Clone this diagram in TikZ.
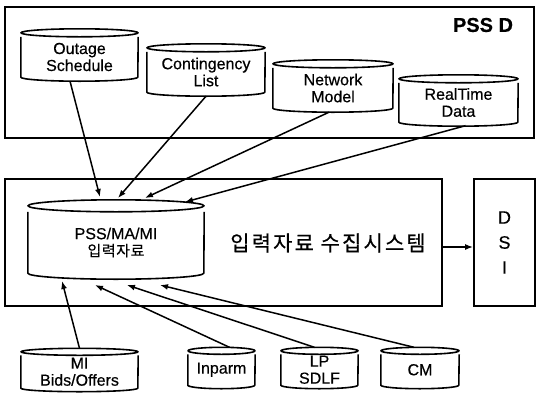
\documentclass[tikz,border=0pt]{standalone}
\usepackage{fontspec}
\setmainfont[FakeBold=0.4]{Liberation Sans}
\newfontfamily\kofont[FakeBold=0.6, LetterSpace=10]{Noto Sans CJK KR}
\newfontfamily\kosmall[FakeBold=0.5, LetterSpace=4]{Noto Sans CJK KR}
\usetikzlibrary{arrows.meta,calc}

\tikzset{
  frame/.style={draw, line width=1.7pt, inner sep=0pt},
  drumnode/.style={inner sep=0pt, align=center,
    font=\fontsize{16}{17}\selectfont},
  drumline/.style={line width=1.6pt, line join=round},
  link/.style={line width=1.5pt, -{Latex[length=8pt,width=6pt]}},
}

% \drum{name}{x centre}{y of top ellipse centre}{width}{y of body bottom}{text}
% the end-ellipse half height is taken from \drumry
\newcommand\drum[6]{%
  \node[drumnode, minimum width=#4, minimum height={#5-#3-\drumry}]
    (#1) at (#2, {(#3+\drumry+#5)/2}) {#6};
  \draw[drumline] (#1.north west) -- (#1.south west)
    arc[start angle=180, end angle=360, x radius={#4*0.5pt}, y radius={\drumry*1pt}]
    -- (#1.north east);
  \draw[drumline] ([yshift=\drumry pt]#1.north)
    ellipse[x radius={#4*0.5pt}, y radius={\drumry*1pt}];
}

\begin{document}
\begin{tikzpicture}[x=1pt, y=-1pt]
\useasboundingbox[fill=white] (0,0) rectangle (536,394);

% upper frame
\node[frame, minimum width=529pt, minimum height=131pt] (pssd) at (269.5,72.5) {};
\node[font=\fontsize{20}{22}\selectfont\bfseries] (pssd-label) at (483,25) {PSS D};

% input collection frame and DSI frame
\node[frame, minimum width=437pt, minimum height=127pt] (collect) at (223.5,242.5) {};
\node[font=\kofont\fontsize{21}{23}\selectfont] (collect-label) at (328,243) {입력자료 수집시스템};
\node[frame, minimum width=61pt, minimum height=127pt, align=center,
      font=\fontsize{18}{25}\selectfont] (dsi) at (504.5,242.5) {D\\S\\I};

% upper data stores
\def\drumry{4}
\drum{outage}{79.5}{33}{117}{77}{Outage\\Schedule}
\drum{cont}{206}{48}{118}{92}{Contingency\\List}
\drum{net}{333}{64}{120}{108}{Network\\Model}
\drum{rt}{458.5}{79}{119}{122}{RealTime\\Data}

% central store
\def\drumry{6}
\drum{mid}{116}{206}{176}{273}{PSS/MA/MI\\{\kosmall\fontsize{15}{17}\selectfont 입력자료}}

% lower data stores
\def\drumry{3.5}
\drum{mi}{79.5}{352}{117}{388}{MI\\Bids/Offers}
\drum{inparm}{221.5}{351}{67}{385}{Inparm}
\drum{lp}{319.5}{351}{77}{385}{LP\\SDLF}
\drum{cm}{420}{351}{78}{385}{CM}

% arrow ends on the central store
\coordinate (t1) at (100,197);
\coordinate (t2) at (118,198);
\coordinate (t3) at (145,198);
\coordinate (t4) at (185,202);
\coordinate (b1) at (62,281);
\coordinate (b2) at (95,285);
\coordinate (b3) at (127,285);
\coordinate (b4) at (160,285);

\draw[link] ([xshift=-9.5pt,yshift=-4pt]outage.south) -- (t1);
\draw[link] ([yshift=-4pt]cont.south) -- (t2);
\draw[link] ([xshift=-4pt,yshift=-4pt]net.south) -- (t3);
\draw[link] ([xshift=7pt,yshift=-3.5pt]rt.south) -- (t4);

\draw[link] ([yshift=7pt]mi.north) -- (b1);
\draw[link] ([xshift=8pt,yshift=7pt]inparm.north) -- (b2);
\draw[link] ([xshift=-5pt,yshift=7pt]lp.north) -- (b3);
\draw[link] ([xshift=-6pt,yshift=7pt]cm.north) -- (b4);

\draw[link] ([yshift=-4.5pt]collect.east) -- ([yshift=-4.5pt]dsi.west);
\end{tikzpicture}
\end{document}
